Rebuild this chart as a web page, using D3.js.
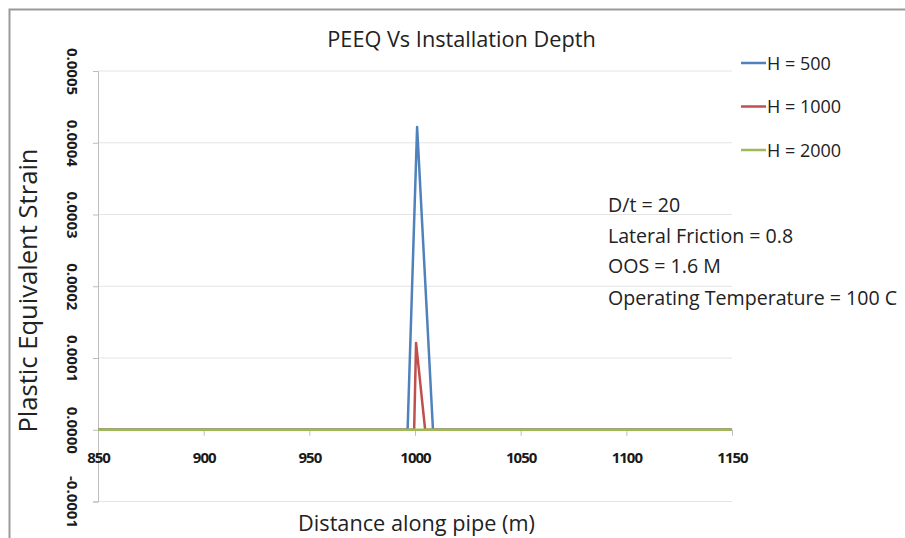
<!DOCTYPE html>
<html>
<head>
<meta charset="utf-8">
<script src="https://cdn.jsdelivr.net/npm/d3@7"></script>
<style>
  body { margin: 0; background: #fff; }
  svg { display: block; font-family: "Open Sans", "Liberation Sans", sans-serif; }
</style>
</head>
<body>
<div id="container"></div>
<script>
// series data
var seriesNames = ["H = 500", "H = 1000", "H = 2000"];
var seriesColors = ["#4F81BD", "#C0504D", "#9BBB59"];

var h500Dist = [850, 996.5, 1001, 1008.5, 1150];
var h500Peeq = [0, 0, 0.000422, 0, 0];

var h1000Dist = [850, 999.6, 1000.5, 1004.8, 1150];
var h1000Peeq = [0, 0, 0.000121, 0, 0];

var h2000Dist = [850, 1150];
var h2000Peeq = [0, 0];

var xTicks = [850, 900, 950, 1000, 1050, 1100, 1150];
var yTicks = [-0.0001, 0, 0.0001, 0.0002, 0.0003, 0.0004, 0.0005];

var notes = ["D/t = 20", "Lateral Friction = 0.8", "OOS = 1.6 M", "Operating Temperature = 100 C"];

var svg_width = 905,
    svg_height = 538;

var svg = d3.select("#container")
  .append("svg")
  .attr("width", svg_width)
  .attr("height", svg_height);

// outer frame (only top/left visible in the picture)
svg.append("rect")
  .attr("x", 9.5).attr("y", 9.5)
  .attr("width", 1000).attr("height", 1000)
  .attr("fill", "none")
  .attr("stroke", "#9a9a9a")
  .attr("stroke-width", 2);

var x = d3.scaleLinear().domain([850, 1150]).range([98, 732]);
var y = d3.scaleLinear().domain([-0.0001, 0.0005]).range([501.5, 71]);

// gridlines
svg.append("g")
  .selectAll("line")
  .data(yTicks)
  .enter()
  .append("line")
  .attr("x1", x(850)).attr("x2", x(1150))
  .attr("y1", function(d) { return y(d); })
  .attr("y2", function(d) { return y(d); })
  .attr("stroke", "#e4e4e4")
  .attr("stroke-width", 1);

// y axis
var yAxis = svg.append("g")
  .attr("transform", "translate(" + x(850) + ",0)")
  .call(d3.axisLeft(y).tickValues(yTicks).tickSize(5).tickFormat(d3.format(".4f")));
yAxis.select(".domain").attr("stroke", "#bdbdbd");
yAxis.selectAll(".tick line").attr("stroke", "#bdbdbd");
yAxis.selectAll(".tick text")
  .attr("x", 0).attr("dy", null)
  .attr("transform", "translate(-25,0) rotate(90)")
  .attr("text-anchor", "middle")
  .attr("dominant-baseline", "central")
  .style("font-family", "'Open Sans', sans-serif")
  .style("font-size", "15px")
  .style("font-weight", "bold")
  .attr("fill", "#1a1a1a")
  .text(function(d) { return d3.format(".4f")(d).replace("−", "-"); });

// x axis sits on zero
var xAxis = svg.append("g")
  .attr("transform", "translate(0," + y(0) + ")")
  .call(d3.axisBottom(x).tickValues(xTicks).tickSize(6).tickSizeOuter(0).tickFormat(d3.format("d")));
xAxis.select(".domain").attr("stroke", "#bdbdbd");
xAxis.selectAll(".tick line").attr("stroke", "#bdbdbd");
xAxis.selectAll(".tick text")
  .attr("y", 33).attr("dy", null)
  .style("font-family", "'Open Sans', sans-serif")
  .style("font-size", "15px")
  .style("font-weight", "bold")
  .style("letter-spacing", "-1px")
  .attr("fill", "#1a1a1a");

// lines
var series = [
  { name: seriesNames[0], color: seriesColors[0], xs: h500Dist, ys: h500Peeq },
  { name: seriesNames[1], color: seriesColors[1], xs: h1000Dist, ys: h1000Peeq },
  { name: seriesNames[2], color: seriesColors[2], xs: h2000Dist, ys: h2000Peeq }
];

var line = d3.line()
  .x(function(d) { return x(d[0]); })
  .y(function(d) { return y(d[1]); });

svg.append("g")
  .selectAll("path")
  .data(series)
  .enter()
  .append("path")
  .attr("d", function(s) { return line(d3.zip(s.xs, s.ys)); })
  .attr("fill", "none")
  .attr("stroke", function(s) { return s.color; })
  .attr("stroke-width", 2.5)
  .attr("stroke-linejoin", "round");

// title
svg.append("text")
  .attr("x", 461.5).attr("y", 47)
  .attr("text-anchor", "middle")
  .style("font-size", "21.7px")
  .attr("fill", "#222")
  .text("PEEQ Vs Installation Depth");

// axis titles
svg.append("text")
  .attr("x", 416.5).attr("y", 531)
  .attr("text-anchor", "middle")
  .style("font-size", "21.7px")
  .attr("fill", "#222")
  .text("Distance along pipe (m)");

svg.append("text")
  .attr("transform", "translate(37,290.5) rotate(-90)")
  .attr("text-anchor", "middle")
  .style("font-size", "25.6px")
  .attr("fill", "#222")
  .text("Plastic Equivalent Strain");

// legend
var legend = svg.append("g")
  .selectAll("g")
  .data(series)
  .enter()
  .append("g")
  .attr("transform", function(d, i) { return "translate(741," + (63 + i * 43.5) + ")"; });

legend.append("line")
  .attr("x1", 0).attr("x2", 25)
  .attr("stroke", function(d) { return d.color; })
  .attr("stroke-width", 2.5);

legend.append("text")
  .attr("x", 26).attr("y", 6.5)
  .style("font-size", "18px")
  .attr("fill", "#222")
  .text(function(d) { return d.name; });

// annotation
svg.append("g")
  .selectAll("text")
  .data(notes)
  .enter()
  .append("text")
  .attr("x", 608)
  .attr("y", function(d, i) { return [212, 243, 273, 305][i]; })
  .style("font-size", "19.6px")
  .attr("fill", "#222")
  .text(function(d) { return d; });
</script>
</body>
</html>
